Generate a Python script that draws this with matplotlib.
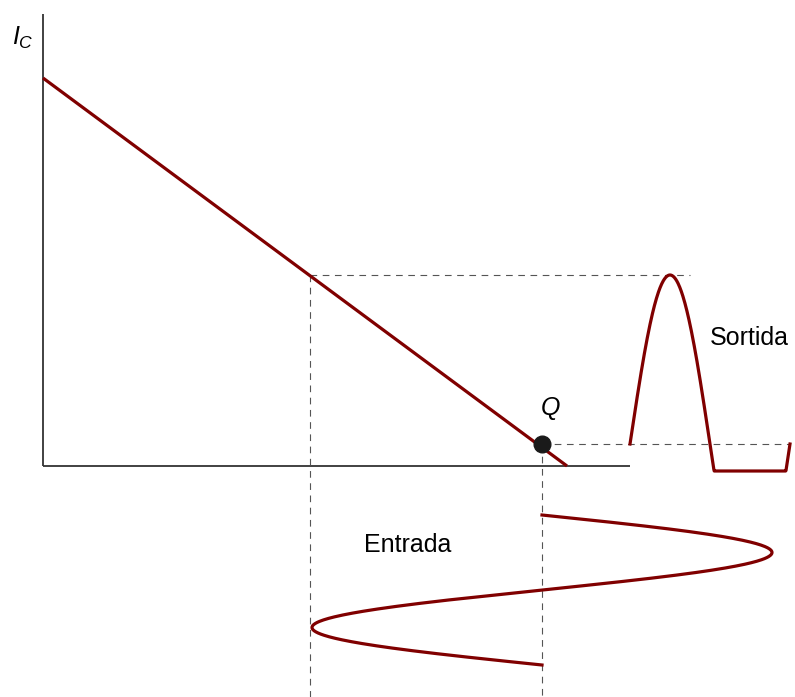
import numpy as np
import matplotlib.pyplot as plt

plt.rcParams['font.family'] = ['Liberation Sans', 'DejaVu Sans']
plt.rcParams['mathtext.fontset'] = 'custom'
plt.rcParams['mathtext.it'] = 'Liberation Sans:italic'
plt.rcParams['mathtext.rm'] = 'Liberation Sans'

# Load line end points (V_CE axis intercept, I_C axis intercept)
load_x = [0, 524]
load_y = [388, 0]

# Quiescent point
q_x, q_y = 499, 22
# Input swing: peak on the load line
peak_x, peak_y = 267, 191

# Output signal (clipped sine) along the I_C direction
out_start, out_period = 587, 160
out_amp = peak_y - q_y
out_floor = -5

# Input signal (sine) drawn downward along the V axis
in_amp = 230
in_top, in_bottom = -49, -199

axis_color = '#333333'
wave_color = '#800000'
dash_color = '#555555'

fig = plt.figure(figsize=(7.95, 6.97), dpi=100)
ax = fig.add_axes([0, 0, 1, 1])
ax.set_xlim(-43, 752)
ax.set_ylim(-231, 466)
ax.axis('off')

# Axes
ax.plot([0, 0], [0, 452], color=axis_color, lw=1.3, solid_capstyle='butt')
ax.plot([0, 587], [0, 0], color=axis_color, lw=1.3, solid_capstyle='butt')

# Guide lines
dash = dict(color=dash_color, lw=0.8, dashes=(6, 5))
ax.plot([peak_x, 647], [peak_y, peak_y], **dash)
ax.plot([peak_x, peak_x], [peak_y, -231], **dash)
ax.plot([q_x, 747], [q_y, q_y], **dash)
ax.plot([q_x, q_x], [q_y, -231], **dash)

# Load line
ax.plot(load_x, load_y, color=wave_color, lw=2.3, solid_capstyle='butt')

# Q point
ax.plot(q_x, q_y, 'o', color='#1a1a1a', ms=12, zorder=5)
ax.text(q_x + 8, q_y + 22, r'$Q$', fontsize=18, ha='center', va='bottom')

# Output waveform
xo = np.linspace(out_start, out_start + out_period, 400)
yo = q_y + out_amp * np.sin(2 * np.pi * (xo - out_start) / out_period)
yo = np.maximum(yo, out_floor)
ax.plot(xo, yo, color=wave_color, lw=2.3)
ax.text(710 - 43, 466 - 338, 'Sortida', fontsize=18, ha='left', va='center')

# Input waveform
yi = np.linspace(in_top, in_bottom, 400)
xi = q_x + in_amp * np.sin(2 * np.pi * (yi - in_top) / (in_bottom - in_top))
ax.plot(xi, yi, color=wave_color, lw=2.3)
ax.text(408 - 43, 466 - 545, 'Entrada', fontsize=18, ha='center', va='center')

# Axis label
ax.text(12 - 43, 466 - 38, r'$I_C$', fontsize=18, ha='left', va='center')

fig.savefig('out.png', dpi=100)
